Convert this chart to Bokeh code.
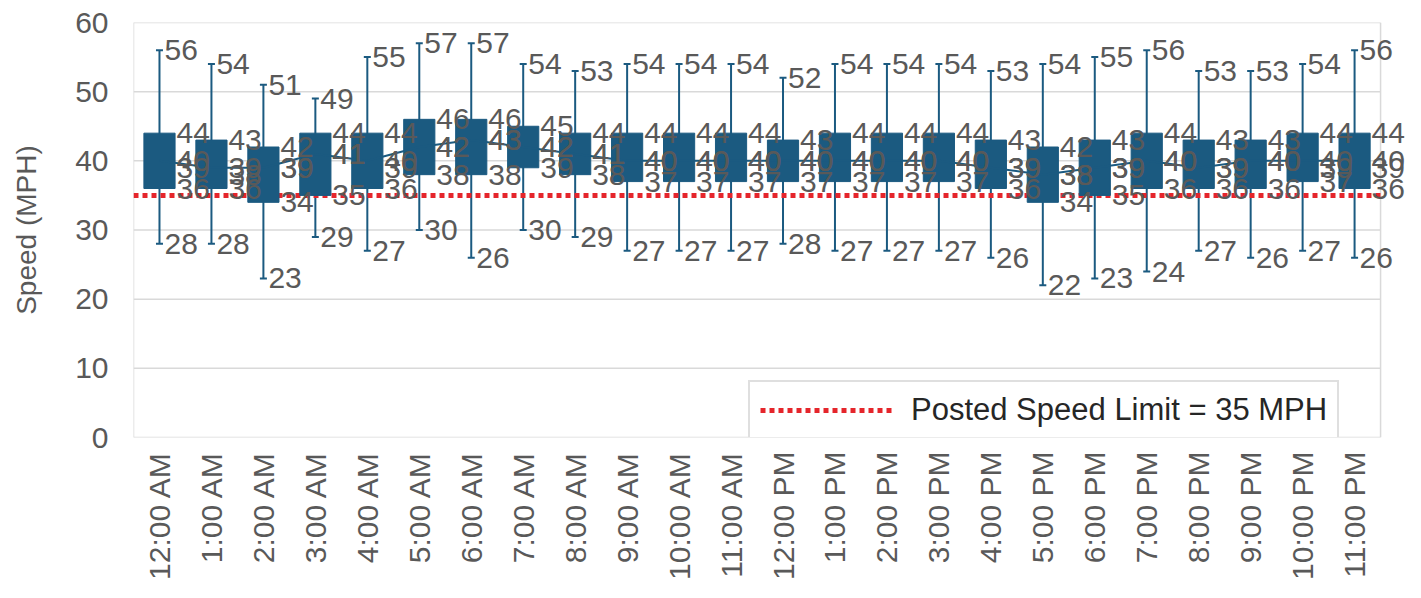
import numpy as np
from bokeh.plotting import figure
from bokeh.models import Range1d, FixedTicker, Legend, LegendItem, ColumnDataSource, LabelSet
from bokeh.core.properties import value
from bokeh.embed import file_html
from bokeh.resources import INLINE

hours = ["12:00 AM", "1:00 AM", "2:00 AM", "3:00 AM", "4:00 AM", "5:00 AM",
         "6:00 AM", "7:00 AM", "8:00 AM", "9:00 AM", "10:00 AM", "11:00 AM",
         "12:00 PM", "1:00 PM", "2:00 PM", "3:00 PM", "4:00 PM", "5:00 PM",
         "6:00 PM", "7:00 PM", "8:00 PM", "9:00 PM", "10:00 PM", "11:00 PM"]
max_v = [56, 54, 51, 49, 55, 57, 57, 54, 53, 54, 54, 54, 52, 54, 54, 54, 53, 54, 55, 56, 53, 53, 54, 56]
q3_v = [44, 43, 42, 44, 44, 46, 46, 45, 44, 44, 44, 44, 43, 44, 44, 44, 43, 42, 43, 44, 43, 43, 44, 44]
median_v = [39, 38, 39, 41, 39, 42, 43, 42, 41, 40, 40, 40, 40, 40, 40, 40, 39, 38, 39, 40, 39, 40, 39, 39]
mean_v = [40, 39, 39, 41, 40, 42, 43, 42, 41, 40, 40, 40, 40, 40, 40, 40, 39, 38, 39, 40, 39, 40, 40, 40]
q1_v = [36, 36, 34, 35, 36, 38, 38, 39, 38, 37, 37, 37, 37, 37, 37, 37, 36, 34, 35, 36, 36, 36, 37, 36]
min_v = [28, 28, 23, 29, 27, 30, 26, 30, 29, 27, 27, 27, 28, 27, 27, 27, 26, 22, 23, 24, 27, 26, 27, 26]
y_ticks = [0, 10, 20, 30, 40, 50, 60]
speed_limit = 35
limit_label = "Posted Speed Limit = 35 MPH"

BOX = "#1b5a80"
GRAY = "#595959"
GRID = "#d9d9d9"
FONT = "Liberation Sans"

n = len(hours)
xpos = np.arange(n) + 0.5
src = ColumnDataSource(dict(x=xpos, mx=max_v, q3=q3_v, med=median_v, mean=mean_v,
                            q1=q1_v, mn=min_v,
                            mx_t=[str(v) for v in max_v], q3_t=[str(v) for v in q3_v],
                            med_t=[str(v) for v in median_v], mean_t=[str(v) for v in mean_v],
                            q1_t=[str(v) for v in q1_v], mn_t=[str(v) for v in min_v]))

# frame extends a bit past the last category so the last labels are not clipped
x_end = n + 0.48
p = figure(width=1405, height=582, x_range=Range1d(0, x_end), y_range=Range1d(0, 60),
           output_backend="svg", toolbar_location=None,
           min_border_left=133, min_border_right=0, min_border_top=22, min_border_bottom=145)

p.outline_line_color = None
p.xgrid.grid_line_color = None
p.ygrid.grid_line_color = None
p.yaxis.ticker = FixedTicker(ticks=y_ticks)
p.xaxis.ticker = FixedTicker(ticks=list(xpos))
p.xaxis.major_label_overrides = {float(x): h for x, h in zip(xpos, hours)}
p.xaxis.major_label_orientation = np.pi / 2

for ax in (p.xaxis, p.yaxis):
    ax.axis_line_color = None
    ax.major_tick_line_color = None
    ax.minor_tick_line_color = None
    ax.major_label_text_font = FONT
    ax.major_label_text_font_size = "30px"
    ax.major_label_text_color = GRAY
p.xaxis.major_label_standoff = 8
p.yaxis.major_label_standoff = 19
p.yaxis.axis_label = "Speed (MPH)"
p.yaxis.axis_label_text_font = FONT
p.yaxis.axis_label_text_font_size = "28px"
p.yaxis.axis_label_text_font_style = "normal"
p.yaxis.axis_label_text_color = GRAY
p.yaxis.axis_label_standoff = 30

# plot-area gridlines and border (limited to the category area)
p.segment(x0=[0] * len(y_ticks), y0=y_ticks, x1=[n] * len(y_ticks), y1=y_ticks,
          line_color=GRID, line_width=1.5)
p.segment(x0=[0, n], y0=[0, 0], x1=[0, n], y1=[60, 60], line_color=GRID, line_width=1.5)

# whiskers
p.segment(x0="x", y0="mn", x1="x", y1="mx", source=src, line_color=BOX, line_width=2)
p.scatter(x="x", y="mx", source=src, marker="dash", size=7, line_color=BOX, line_width=2)
p.scatter(x="x", y="mn", source=src, marker="dash", size=7, line_color=BOX, line_width=2)

# speed limit line
limit = p.line(x=[0, n], y=[speed_limit, speed_limit], line_color="#e5252b", line_width=5,
               line_dash="5 4")

# boxes
p.vbar(x="x", top="q3", bottom="q1", width=0.6, source=src, fill_color=BOX,
       line_color=BOX, line_width=1)
p.rect(x="x", y="med", width=0.6, height=0, source=src, line_color="#2f6f96", line_width=1.5)
p.line(x="x", y="mean", source=src, line_color=BOX, line_width=2)

# data labels
for col, txt, off in [("mx", "mx_t", 5), ("mn", "mn_t", 5), ("q3", "q3_t", 17),
                      ("med", "med_t", 17), ("mean", "mean_t", 17), ("q1", "q1_t", 17)]:
    p.add_layout(LabelSet(x="x", y=col, text=txt, source=src, x_offset=off, y_offset=0,
                          text_font=value(FONT), text_font_size="30px", text_color=GRAY,
                          text_baseline="middle", text_align="left"))

legend = Legend(items=[LegendItem(label=limit_label, renderers=[limit])],
                location=(615, -3), orientation="horizontal")
legend.label_text_font = FONT
legend.label_text_font_size = "31px"
legend.label_text_color = "#262626"
legend.border_line_color = "#bfbfbf"
legend.border_line_width = 2
legend.background_fill_alpha = 1
legend.padding = 10
legend.margin = 0
legend.glyph_width = 135
legend.glyph_height = 28
legend.label_height = 28
legend.label_standoff = 16
p.add_layout(legend)

open("out.html", "w").write(file_html(p, INLINE))
